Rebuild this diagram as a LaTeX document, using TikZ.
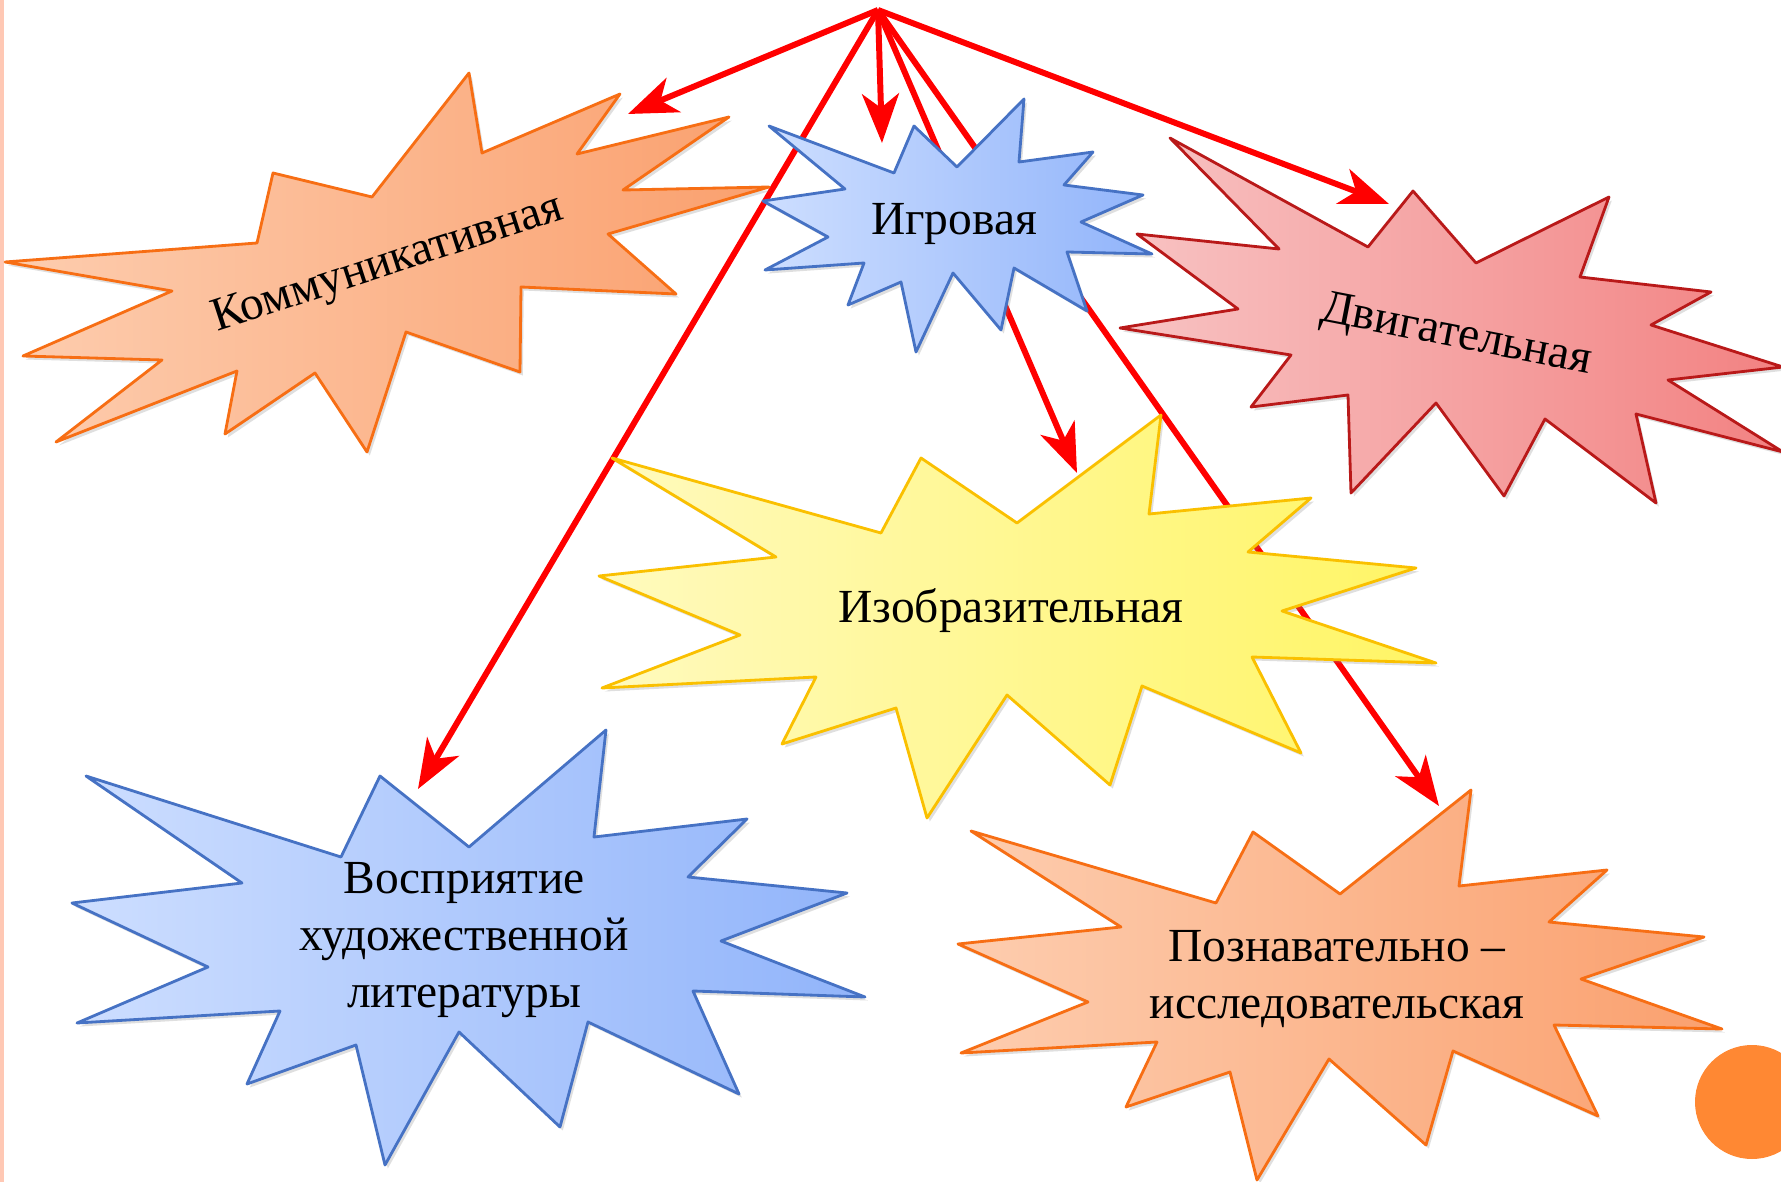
\documentclass[tikz,border=0pt]{standalone}
\usepackage{fontspec}
\setmainfont{Liberation Serif}
\usetikzlibrary{arrows.meta,shadows}

\definecolor{peachline}{RGB}{247,110,20}
\definecolor{peachleft}{RGB}{253,205,175}
\definecolor{peachright}{RGB}{250,160,110}
\definecolor{skyline}{RGB}{70,114,196}
\definecolor{skyleft}{RGB}{205,222,255}
\definecolor{skyright}{RGB}{145,180,250}
\definecolor{roseline}{RGB}{185,25,25}
\definecolor{roseleft}{RGB}{248,195,195}
\definecolor{roseright}{RGB}{242,130,130}
\definecolor{lemonline}{RGB}{250,192,0}
\definecolor{lemonleft}{RGB}{255,250,190}
\definecolor{lemonright}{RGB}{255,245,100}
\definecolor{dotorange}{RGB}{255,136,51}
\definecolor{stripe}{RGB}{255,200,180}

\begin{document}
\begin{tikzpicture}[x=0.01cm,y=-0.01cm,
                    >={Stealth[length=14pt,width=10.5pt,inset=4pt]},
                    font=\fontsize{13.5}{16.2}\selectfont]

  \tikzstyle{burst}=[line width=0.8pt,line join=round,
                     drop shadow={opacity=0.25,shadow xshift=0.8pt,shadow yshift=-1pt}]
  \tikzstyle{peach}=[burst,draw=peachline,left color=peachleft,right color=peachright]
  \tikzstyle{sky}=[burst,draw=skyline,left color=skyleft,right color=skyright]
  \tikzstyle{rose}=[burst,draw=roseline,left color=roseleft,right color=roseright]
  \tikzstyle{lemon}=[burst,draw=lemonline,left color=lemonleft,right color=lemonright]
  \tikzstyle{pointer}=[->,red,line width=1.7pt]
  \tikzstyle{word}=[anchor=base,align=center,inner sep=0pt]

  \clip (0,0) rectangle (1781,1182);
  \fill[white] (0,0) rectangle (1781,1182);
  \fill[stripe] (0,0) rectangle (4,1182);

  \coordinate (top)      at (878,10);
  \coordinate (komm-in)  at (628,114);
  \coordinate (vospr-in) at (418,789);
  \coordinate (igr-in)   at (882,143);
  \coordinate (izo-in)   at (1077,473);
  \coordinate (pozn-in)  at (1439,806);
  \coordinate (dvig-in)  at (1389,204);

  \path[pointer]
  (top) edge[red] (komm-in)
  (top) edge[red] (vospr-in)
  (top) edge[red] (igr-in)
  (top) edge[red] (izo-in)
  (top) edge[red] (pozn-in)
  (top) edge[red] (dvig-in);

  % bursts
  \path[peach] (5,262) -- (257,243) -- (273,173) -- (372,197) -- (469,73) -- (482,153)
    -- (620,94) -- (577,154) -- (729,117) -- (623,190) -- (769,187) -- (608,234)
    -- (676,294) -- (521,287) -- (520,372) -- (406,332) -- (367,452) -- (315,373)
    -- (225,434) -- (237,371) -- (56,442) -- (162,360) -- (23,356) -- (172,291) -- cycle;

  \path[rose] (1170,138) -- (1368,247) -- (1413,191) -- (1476,263) -- (1609,197) -- (1580,277)
    -- (1711,292) -- (1651,325) -- (1783,367) -- (1668,380) -- (1783,452) -- (1636,414)
    -- (1656,503) -- (1545,419) -- (1504,496) -- (1436,403) -- (1351,493) -- (1348,395)
    -- (1251,407) -- (1291,355) -- (1120,328) -- (1238,309) -- (1137,234) -- (1279,249) -- cycle;

  \path[sky] (763,201) -- (845,189) -- (769,126) -- (894,173) -- (914,126) -- (957,167)
    -- (1024,99) -- (1019,162) -- (1093,152) -- (1064,185) -- (1143,195) -- (1081,222)
    -- (1152,254) -- (1067,252) -- (1087,311) -- (1014,268) -- (1001,330) -- (953,273)
    -- (916,352) -- (901,282) -- (848,305) -- (864,263) -- (765,270) -- (828,237) -- cycle;

  \path[lemon] (612,458) -- (881,533) -- (921,458) -- (1017,523) -- (1161,415) -- (1149,514)
    -- (1311,498) -- (1248,552) -- (1416,568) -- (1282,611) -- (1436,663) -- (1252,657)
    -- (1301,753) -- (1142,686) -- (1110,785) -- (1007,695) -- (927,818) -- (896,708)
    -- (782,744) -- (816,677) -- (602,688) -- (740,635) -- (599,576) -- (776,557) -- cycle;

  \path[sky] (86,776) -- (341,857) -- (380,776) -- (469,847) -- (606,730) -- (594,837)
    -- (747,819) -- (688,877) -- (847,893) -- (721,941) -- (865,997) -- (693,991)
    -- (739,1094) -- (588,1022) -- (560,1127) -- (459,1032) -- (385,1165) -- (356,1045)
    -- (247,1084) -- (280,1011) -- (77,1023) -- (208,967) -- (72,903) -- (242,883) -- cycle;

  \path[peach] (971,831) -- (1216,903) -- (1253,832) -- (1340,894) -- (1471,790) -- (1459,886)
    -- (1607,870) -- (1549,922) -- (1704,937) -- (1581,979) -- (1722,1029) -- (1554,1025)
    -- (1598,1116) -- (1453,1051) -- (1426,1145) -- (1329,1059) -- (1257,1180) -- (1230,1072)
    -- (1126,1107) -- (1157,1042) -- (961,1053) -- (1088,1002) -- (958,944) -- (1121,927) -- cycle;

  % texts (multi-line nodes sit on their last baseline)
  \node[word,rotate=18]  (komm)  at (391,275)  {Коммуникативная};
  \node[word]            (igr)   at (954,235)  {Игровая};
  \node[word,rotate=-11] (dvig)  at (1454,347) {Двигательная};
  \node[word]            (izo)   at (1011,622) {Изобразительная};
  \node[word]            (vospr) at (464,1007) {Восприятие\\художественной\\литературы};
  \node[word]            (pozn)  at (1337,1018) {Познавательно –\\исследовательская};

  \fill[dotorange] (1752,1102) circle (57);

\end{tikzpicture}
\end{document}
